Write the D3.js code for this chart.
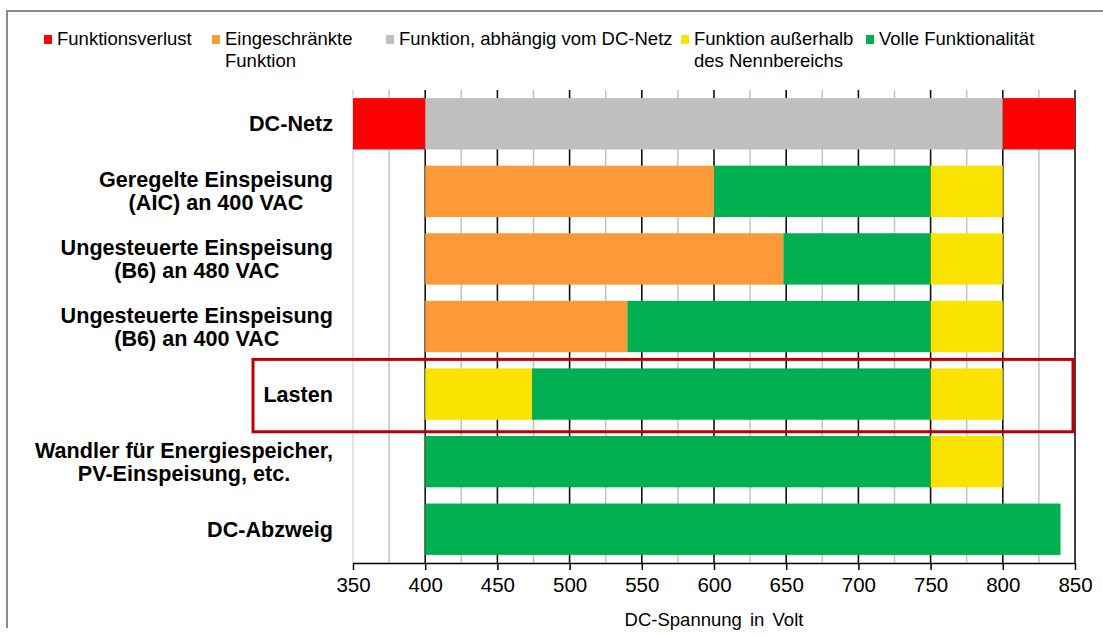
<!DOCTYPE html>
<html>
<head>
<meta charset="utf-8">
<script src="https://cdn.jsdelivr.net/npm/d3@7"></script>
<style>
  body { margin: 0; background: #fff; }
  text { font-family: "Liberation Sans", Arial, sans-serif; fill: #000; }
</style>
</head>
<body>
<svg id="chart" width="1103" height="635"></svg>
<script>
// data
const categories = [
  "DC-Netz",
  "Geregelte Einspeisung|(AIC) an 400 VAC",
  "Ungesteuerte Einspeisung|(B6) an 480 VAC",
  "Ungesteuerte Einspeisung|(B6) an 400 VAC",
  "Lasten",
  "Wandler für Energiespeicher,|PV-Einspeisung, etc.",
  "DC-Abzweig"
];

const seriesNames = [
  "Funktionsverlust",
  "Eingeschränkte|Funktion",
  "Funktion, abhängig vom DC-Netz",
  "Funktion außerhalb|des Nennbereichs",
  "Volle Funktionalität"
];
const seriesColors = ["#ff0000", "#fb9a36", "#bfbfbf", "#fae300", "#00b050"];

// segments per category: [series index, from V, to V]
const segments = [
  [[0, 350, 400], [2, 400, 800], [0, 800, 850]],
  [[1, 400, 600], [4, 600, 750], [3, 750, 800]],
  [[1, 400, 648], [4, 648, 750], [3, 750, 800]],
  [[1, 400, 540], [4, 540, 750], [3, 750, 800]],
  [[3, 400, 474], [4, 474, 750], [3, 750, 800]],
  [[4, 400, 750], [3, 750, 800]],
  [[4, 400, 840]]
];

const xTicks = d3.range(350, 851, 50);
const xMinor = d3.range(375, 851, 50);
const highlighted = "Lasten";

const svg = d3.select("#chart");

// frame of the screenshot
svg.append("path")
  .attr("d", "M7,628 V11 H1103")
  .attr("fill", "none")
  .attr("stroke", "#8a8a8a")
  .attr("stroke-width", 2);

const x = d3.scaleLinear().domain([350, 850]).range([353, 1075]);
const y = d3.scaleBand().domain(categories).range([90, 563])
  .paddingInner(0.24).paddingOuter(0.12);

// grid
const grid = svg.append("g");
grid.selectAll("line.minor")
  .data(xMinor)
  .join("line")
  .attr("x1", d => x(d)).attr("x2", d => x(d))
  .attr("y1", 90).attr("y2", 563)
  .attr("stroke", "#c4c4c4")
  .attr("stroke-width", 1.5);
grid.selectAll("line.major")
  .data(xTicks)
  .join("line")
  .attr("x1", d => x(d)).attr("x2", d => x(d))
  .attr("y1", 90).attr("y2", 563)
  .attr("stroke", d => d === 350 ? "#dcdcdc" : "#111")
  .attr("stroke-width", 1.6);

// bars
const rows = svg.append("g").selectAll("g")
  .data(categories)
  .join("g");

rows.selectAll("rect")
  .data((d, i) => segments[i].map(s => ({ cat: d, s: s[0], a: s[1], b: s[2] })))
  .join("rect")
  .attr("x", d => x(d.a))
  .attr("y", d => y(d.cat))
  .attr("width", d => x(d.b) - x(d.a))
  .attr("height", y.bandwidth())
  .attr("fill", d => seriesColors[d.s]);

// category labels, lines centred on each other, block right-aligned
const labelRight = 333;
const labels = svg.append("g").selectAll("text")
  .data(categories)
  .join("text")
  .attr("font-size", "21.6px")
  .attr("font-weight", "bold")
  .attr("text-anchor", "middle");

labels.each(function (d) {
  const lines = d.split("|");
  const t = d3.select(this);
  const cy = y(d) + y.bandwidth() / 2;
  const y0 = cy - (lines.length - 1) * 11.5 + 7.5;
  lines.forEach((ln, i) => {
    t.append("tspan").attr("y", y0 + i * 23).text(ln);
  });
  let w = 0;
  t.selectAll("tspan").each(function () { w = Math.max(w, this.getComputedTextLength()); });
  t.selectAll("tspan").attr("x", labelRight - w / 2);
});

// x axis
const axis = svg.append("g")
  .attr("transform", "translate(0,563)")
  .call(d3.axisBottom(x).tickValues(xTicks).tickSize(7).tickSizeOuter(0).tickPadding(7));
axis.select(".domain").attr("stroke", "#000").attr("stroke-width", 1.5);
axis.selectAll(".tick line").attr("stroke", "#000").attr("stroke-width", 1.5);
axis.selectAll(".tick text")
  .attr("font-family", "Liberation Sans, Arial, sans-serif")
  .attr("font-size", "20.5px")
  .attr("fill", "#000");

svg.append("text")
  .attr("x", x(600))
  .attr("y", 626)
  .attr("text-anchor", "middle")
  .attr("font-size", "18.5px")
  .attr("word-spacing", "3px")
  .text("DC-Spannung in Volt");

// legend
const legendX = [44, 212, 386, 681, 866];
const legend = svg.append("g").selectAll("g")
  .data(seriesNames)
  .join("g")
  .attr("transform", (d, i) => `translate(${legendX[i]},0)`);

legend.append("rect")
  .attr("x", 0).attr("y", 35)
  .attr("width", 8).attr("height", 9)
  .attr("fill", (d, i) => seriesColors[i]);

legend.append("text")
  .attr("font-size", "18.5px")
  .each(function (d) {
    d.split("|").forEach((ln, i) => {
      d3.select(this).append("tspan")
        .attr("x", 13)
        .attr("y", 45 + i * 22)
        .text(ln);
    });
  });

// highlight box around one row
svg.append("rect")
  .attr("x", 253)
  .attr("y", y(highlighted) - 9)
  .attr("width", x(850) - 2 - 253)
  .attr("height", y.bandwidth() + 21)
  .attr("fill", "none")
  .attr("stroke", "#c00000")
  .attr("stroke-width", 3);
</script>
</body>
</html>
